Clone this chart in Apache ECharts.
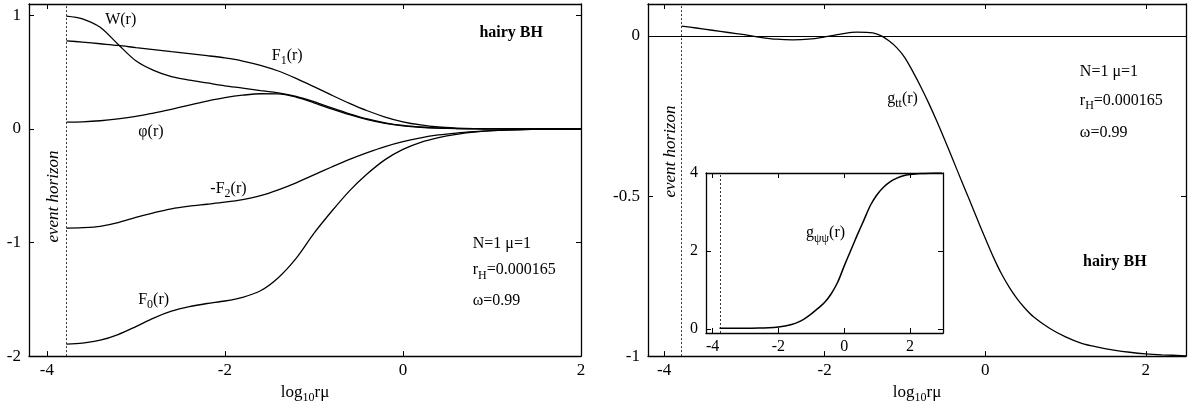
<!DOCTYPE html>
<html><head><meta charset="utf-8">
<script src="https://cdn.jsdelivr.net/npm/echarts@6/dist/echarts.min.js"></script>
<style>html,body{margin:0;padding:0;background:#fff}#c{width:1192px;height:409px}</style>
</head><body><div id="c"></div>
<script>
// ---------- data ----------
const horizonX = -3.78;

// left panel
const xL  = [-3.78,-3.6,-3.4,-3.2,-3.0,-2.8,-2.6,-2.4,-2.2,-2.0,-1.8,-1.6,-1.4,-1.2,-1.0,-0.8,-0.6,-0.4,-0.2,0,0.2,0.4,0.6,0.8,1.0,1.3,1.6,2.0];
const W   = [0.994,0.97,0.895,0.745,0.60,0.515,0.46,0.43,0.405,0.38,0.36,0.338,0.318,0.287,0.24,0.185,0.133,0.088,0.054,0.031,0.017,0.008,0.004,0.002,0.001,0,0,0];
const PHI = [0.060,0.063,0.072,0.088,0.11,0.14,0.172,0.21,0.245,0.275,0.297,0.31,0.309,0.28,0.23,0.176,0.125,0.082,0.049,0.027,0.014,0.007,0.003,0.001,0,0,0,0];
const F1  = [0.776,0.765,0.75,0.735,0.716,0.698,0.68,0.663,0.645,0.625,0.598,0.56,0.51,0.445,0.372,0.297,0.225,0.16,0.105,0.063,0.035,0.017,0.008,0.003,0.001,0,0,0];
const MF2 = [-0.873,-0.869,-0.857,-0.825,-0.778,-0.738,-0.703,-0.68,-0.663,-0.645,-0.622,-0.588,-0.537,-0.475,-0.405,-0.335,-0.268,-0.208,-0.155,-0.112,-0.078,-0.053,-0.036,-0.024,-0.015,-0.007,-0.003,-0.001];
const F0  = [-1.894,-1.885,-1.86,-1.81,-1.74,-1.665,-1.605,-1.565,-1.537,-1.515,-1.482,-1.425,-1.31,-1.14,-0.92,-0.725,-0.545,-0.395,-0.27,-0.18,-0.118,-0.076,-0.047,-0.028,-0.015,-0.006,-0.002,0];

// right panel
const xR  = [-3.78,-3.6,-3.4,-3.2,-3.0,-2.8,-2.6,-2.4,-2.2,-2.0,-1.8,-1.6,-1.4,-1.3,-1.2,-1.1,-1.0,-0.9,-0.8,-0.7,-0.6,-0.5,-0.4,-0.3,-0.2,-0.1,0,0.1,0.2,0.3,0.4,0.5,0.6,0.8,1.0,1.2,1.4,1.6,1.8,2.0,2.2,2.5];
const GTT = [0.031,0.025,0.018,0.011,0.004,-0.004,-0.010,-0.012,-0.010,-0.003,0.006,0.012,0.01,0.001,-0.015,-0.037,-0.068,-0.112,-0.16,-0.212,-0.268,-0.327,-0.388,-0.45,-0.51,-0.572,-0.632,-0.69,-0.742,-0.785,-0.822,-0.852,-0.877,-0.913,-0.94,-0.96,-0.972,-0.981,-0.988,-0.993,-0.996,-0.999];

// inset
const xI  = [-3.79,-3.4,-3.0,-2.6,-2.3,-2.0,-1.8,-1.6,-1.4,-1.2,-1.0,-0.8,-0.6,-0.4,-0.2,0,0.2,0.4,0.6,0.8,1.0,1.2,1.4,1.6,1.8,2.0,2.3,2.6,2.97];
const GPP = [0.02,0.02,0.02,0.025,0.035,0.055,0.08,0.12,0.18,0.27,0.39,0.53,0.68,0.9,1.2,1.62,2.02,2.42,2.8,3.18,3.45,3.64,3.78,3.87,3.93,3.96,3.985,3.995,4.0];

// ticks
const ticksXL = [-4,-2,0,2];
const ticksYL = [-2,-1,0,1];
const ticksXR = [-4,-2,0,2];
const ticksYR = [-1,-0.5,0];
const ticksXI = [-4,-2,0,2];
const ticksYI = [0,2,4];

// annotations (data coordinates)
const annotations = [
  {p:0, x:-3.17, y:0.957, t:'{a|W(r)}'},
  {p:0, x:-1.30, y:0.645, t:'{a|F}{s|1}{a|(r)}'},
  {p:0, x:-2.83, y:-0.026, t:'{a|φ(r)}'},
  {p:0, x:-1.96, y:-0.526, t:'{a|-F}{s|2}{a|(r)}'},
  {p:0, x:-2.80, y:-1.50, t:'{a|F}{s|0}{a|(r)}'},
  {p:0, x:1.216, y:0.845, t:'{b|hairy BH}'},
  {p:0, x:0.784, y:-1.009, t:'{a|N=1 μ=1}', align:'left'},
  {p:0, x:0.784, y:-1.241, t:'{a|r}{s|H}{a|=0.000165}', align:'left'},
  {p:0, x:0.784, y:-1.509, t:'{a|ω=0.99}', align:'left'},
  {p:0, x:-3.93, y:-0.595, t:'{i|event horizon}', rot:true},
  {p:1, x:-1.03, y:-0.196, t:'{a|g}{s|tt}{a|(r)}'},
  {p:1, x:1.178, y:-0.113, t:'{a|N=1 μ=1}', align:'left'},
  {p:1, x:1.178, y:-0.202, t:'{a|r}{s|H}{a|=0.000165}', align:'left'},
  {p:1, x:1.178, y:-0.303, t:'{a|ω=0.99}', align:'left'},
  {p:1, x:1.614, y:-0.706, t:'{b|hairy BH}'},
  {p:1, x:-3.92, y:-0.361, t:'{i|event horizon}', rot:true},
  {p:2, x:-0.567, y:2.456, t:'{a|g}{s|ψψ}{a|(r)}'}
];

// ---------- chart ----------
const FONT = 'Liberation Serif';
const rich = {
  a:{fontFamily:FONT, fontSize:16, color:'#000'},
  s:{fontFamily:FONT, fontSize:12, color:'#000', padding:[11,0,0,0]},
  b:{fontFamily:FONT, fontSize:16, fontWeight:'bold', color:'#000'},
  i:{fontFamily:FONT, fontSize:17, fontStyle:'italic', color:'#000'}
};
const nameRich = {
  a:{fontFamily:FONT, fontSize:17, color:'#000'},
  s:{fontFamily:FONT, fontSize:12, color:'#000', padding:[11,0,0,0]}
};

function xAxisMain(grid, min, max, ticks, withName, fs){
  return {type:'value', gridIndex:grid, min, max, position:'bottom',
    axisLine:{show:true, onZero:false, lineStyle:{color:'#000', width:1.3}},
    axisTick:{show:true, inside:true, length:5, customValues:ticks, lineStyle:{color:'#000', width:1}},
    axisLabel:{show:true, customValues:ticks, margin:6, color:'#000', fontFamily:FONT, fontSize:fs},
    splitLine:{show:false},
    name: withName ? '{a|log}{s|10}{a|rμ}' : '',
    nameLocation:'middle', nameGap:10,
    nameTextStyle:{fontFamily:FONT, fontSize:17, color:'#000', rich:nameRich}
  };
}
function xAxisMirror(grid, min, max, ticks){
  return {type:'value', gridIndex:grid, min, max, position:'top',
    axisLine:{show:true, onZero:false, lineStyle:{color:'#000', width:1.3}},
    axisTick:{show:true, inside:true, length:5, customValues:ticks, lineStyle:{color:'#000', width:1}},
    axisLabel:{show:false}, splitLine:{show:false}};
}
function yAxisMain(grid, min, max, ticks, fs){
  return {type:'value', gridIndex:grid, min, max, position:'left',
    axisLine:{show:true, onZero:false, lineStyle:{color:'#000', width:1.3}},
    axisTick:{show:true, inside:true, length:5, customValues:ticks, lineStyle:{color:'#000', width:1}},
    axisLabel:{show:true, customValues:ticks, margin:8, color:'#000', fontFamily:FONT, fontSize:fs},
    splitLine:{show:false}};
}
function yAxisMirror(grid, min, max, ticks){
  return {type:'value', gridIndex:grid, min, max, position:'right',
    axisLine:{show:true, onZero:false, lineStyle:{color:'#000', width:1.3}},
    axisTick:{show:true, inside:true, length:5, customValues:ticks, lineStyle:{color:'#000', width:1}},
    axisLabel:{show:false}, splitLine:{show:false}};
}
function pairs(xs, ys){ return xs.map((x,i)=>[x, ys[i]]); }
function curve(ax, xs, ys, extra){
  return Object.assign({type:'line', xAxisIndex:ax, yAxisIndex:ax, data:pairs(xs, ys),
    symbol:'none', showSymbol:false, smooth:0.3, clip:true,
    lineStyle:{color:'#000', width:1.3}, silent:true, z:3}, extra||{});
}
const horizonLine = {xAxis:horizonX, lineStyle:{color:'#333', type:[2,2], width:1}};

const option = {
  animation:false,
  backgroundColor:'#fff',
  grid:[
    {left:29, top:4, width:552, height:359},
    {left:648, top:4, width:538, height:359},
    {left:706, top:173, width:237, height:160, show:true, backgroundColor:'#fff', borderWidth:0, z:5}
  ],
  xAxis:[
    xAxisMain(0, -4.2, 2, ticksXL, true, 17),
    xAxisMain(1, -4.2, 2.5, ticksXR, true, 17),
    Object.assign(xAxisMain(2, -4.2, 3, ticksXI, false, 16), {z:6}),
    xAxisMirror(0, -4.2, 2, ticksXL),
    xAxisMirror(1, -4.2, 2.5, ticksXR),
    Object.assign(xAxisMirror(2, -4.2, 3, ticksXI), {z:6})
  ],
  yAxis:[
    yAxisMain(0, -2, 1.1, ticksYL, 17),
    yAxisMain(1, -1, 0.1, ticksYR, 17),
    Object.assign(yAxisMain(2, -0.1, 4, ticksYI, 16), {z:6}),
    yAxisMirror(0, -2, 1.1, ticksYL),
    yAxisMirror(1, -1, 0.1, ticksYR),
    Object.assign(yAxisMirror(2, -0.1, 4, ticksYI), {z:6})
  ],
  series:[
    curve(0, xL, W, {name:'W', markLine:{silent:true, symbol:['none','none'], label:{show:false}, data:[horizonLine]}}),
    curve(0, xL, PHI, {name:'phi'}),
    curve(0, xL, F1, {name:'F1'}),
    curve(0, xL, MF2, {name:'-F2'}),
    curve(0, xL, F0, {name:'F0'}),
    curve(1, xR, GTT, {name:'gtt', markLine:{silent:true, symbol:['none','none'], label:{show:false},
      data:[horizonLine, {yAxis:0, lineStyle:{color:'#000', type:'solid', width:1.2}}]}}),
    curve(2, xI, GPP, {name:'gpp', z:7, lineStyle:{color:'#000', width:1.5},
      markLine:{silent:true, symbol:['none','none'], label:{show:false}, z:7, data:[horizonLine]}})
  ]
};

const chart = echarts.init(document.getElementById('c'), null, {renderer:'canvas'});
chart.setOption(option);

const graphics = annotations.map(a => {
  const px = chart.convertToPixel({xAxisIndex:a.p, yAxisIndex:a.p}, [a.x, a.y]);
  return {type:'text', x:px[0], y:px[1], rotation: a.rot ? Math.PI/2 : 0, z:100,
    style:{text:a.t, rich:rich, fontFamily:FONT, fontSize:16, fill:'#000',
      align:a.align||'center', verticalAlign:'middle'}};
});
chart.setOption({graphic:graphics});
</script>
</body></html>
